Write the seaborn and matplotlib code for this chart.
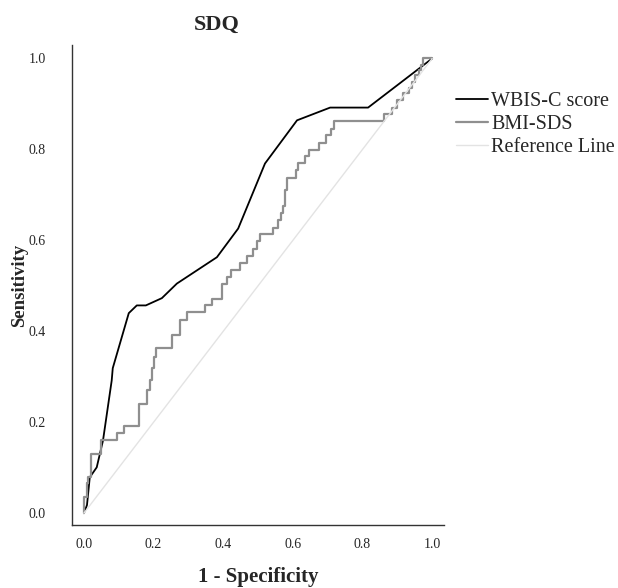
import seaborn as sns
import matplotlib.pyplot as plt
import pandas as pd

# ROC coordinates
wbis_fpr = [0.0, 0.009, 0.017, 0.037, 0.055, 0.080, 0.083, 0.129, 0.152, 0.178,
            0.224, 0.267, 0.382, 0.443, 0.520, 0.612, 0.707, 0.816, 1.0]
wbis_tpr = [0.0, 0.018, 0.079, 0.101, 0.160, 0.292, 0.319, 0.440, 0.457, 0.457,
            0.473, 0.505, 0.563, 0.626, 0.769, 0.864, 0.892, 0.892, 1.0]

bmi_fpr = [0.0, 0.0, 0.008, 0.008, 0.012, 0.012, 0.020, 0.020, 0.048, 0.048,
           0.094, 0.094, 0.116, 0.116, 0.159, 0.159, 0.180, 0.180, 0.190, 0.190,
           0.195, 0.195, 0.201, 0.201, 0.207, 0.207, 0.253, 0.253, 0.276, 0.276,
           0.295, 0.295, 0.348, 0.348, 0.367, 0.367, 0.396, 0.396, 0.412, 0.412,
           0.422, 0.422, 0.448, 0.448, 0.468, 0.468, 0.486, 0.486, 0.496, 0.496,
           0.506, 0.506, 0.544, 0.544, 0.558, 0.558, 0.565, 0.565, 0.571, 0.571,
           0.578, 0.578, 0.584, 0.584, 0.609, 0.609, 0.616, 0.616, 0.635, 0.635,
           0.645, 0.645, 0.676, 0.676, 0.695, 0.695, 0.709, 0.709, 0.718, 0.718,
           0.863, 0.863, 0.884, 0.884, 0.899, 0.899, 0.916, 0.916, 0.932, 0.932,
           0.941, 0.941, 0.951, 0.951, 0.961, 0.961, 0.968, 0.968, 0.973, 0.973, 1.0]
bmi_tpr = [0.0, 0.035, 0.035, 0.066, 0.066, 0.079, 0.079, 0.130, 0.130, 0.160,
           0.160, 0.176, 0.176, 0.191, 0.191, 0.240, 0.240, 0.270, 0.270, 0.292,
           0.292, 0.319, 0.319, 0.343, 0.343, 0.363, 0.363, 0.393, 0.393, 0.424,
           0.424, 0.442, 0.442, 0.457, 0.457, 0.472, 0.472, 0.505, 0.505, 0.519,
           0.519, 0.534, 0.534, 0.550, 0.550, 0.566, 0.566, 0.582, 0.582, 0.598,
           0.598, 0.613, 0.613, 0.628, 0.628, 0.644, 0.644, 0.660, 0.660, 0.675,
           0.675, 0.710, 0.710, 0.738, 0.738, 0.754, 0.754, 0.770, 0.770, 0.785,
           0.785, 0.799, 0.799, 0.815, 0.815, 0.831, 0.831, 0.845, 0.845, 0.862,
           0.862, 0.878, 0.878, 0.892, 0.892, 0.908, 0.908, 0.924, 0.924, 0.936,
           0.936, 0.948, 0.948, 0.963, 0.963, 0.974, 0.974, 0.985, 0.985, 1.0, 1.0]

ref_x = [0.0, 1.0]
ref_y = [0.0, 1.0]

ticks = [0.0, 0.2, 0.4, 0.6, 0.8, 1.0]

sns.set_style("white")
plt.rcParams['font.family'] = ['Liberation Serif', 'DejaVu Serif']

fig = plt.figure(figsize=(6.18, 5.88), dpi=100)
ax = fig.add_axes([0.1165, 0.107, 0.602, 0.816])

df_w = pd.DataFrame({'fpr': wbis_fpr, 'tpr': wbis_tpr})
df_b = pd.DataFrame({'fpr': bmi_fpr, 'tpr': bmi_tpr})
df_r = pd.DataFrame({'fpr': ref_x, 'tpr': ref_y})

sns.lineplot(data=df_w, x='fpr', y='tpr', sort=False, estimator=None,
             color='black', linewidth=1.3, ax=ax, label='WBIS-C score')
sns.lineplot(data=df_b, x='fpr', y='tpr', sort=False, estimator=None,
             color='#8f8f8f', linewidth=1.6, ax=ax, label='BMI-SDS')
sns.lineplot(data=df_r, x='fpr', y='tpr', sort=False, estimator=None,
             color='#e3e3e3', linewidth=1.0, ax=ax, label='Reference Line')

ax.set_xlim(-0.034, 1.034)
ax.set_ylim(-0.026, 1.029)
ax.set_xticks(ticks)
ax.set_yticks(ticks)
ax.set_xticklabels([f"{t:.1f}" for t in ticks])
ax.set_yticklabels([f"{t:.1f}" for t in ticks])
ax.tick_params(length=0, labelsize=10)
ax.tick_params(axis='y', pad=19)
ax.tick_params(axis='x', pad=9)

for s in ['top', 'right']:
    ax.spines[s].set_visible(False)
for s in ['left', 'bottom']:
    ax.spines[s].set_color('#333333')
    ax.spines[s].set_linewidth(1.0)

ax.set_xlabel("1 - Specificity", fontsize=15, fontweight='bold', labelpad=11.5)
ax.set_ylabel("Sensitivity", fontsize=13.5, fontweight='bold', labelpad=0)
fig.text(0.351, 0.958, "SDQ", fontsize=16, fontweight='bold',
         ha='center', va='center')

ax.get_legend().remove()
h, l = ax.get_legend_handles_labels()
fig.legend(h, l, loc='upper left', bbox_to_anchor=(0.725, 0.857), frameon=False,
           fontsize=14.5, handlelength=1.6, handletextpad=0.15, labelspacing=0.2,
           borderaxespad=0)

fig.savefig("out.png", dpi=100)
